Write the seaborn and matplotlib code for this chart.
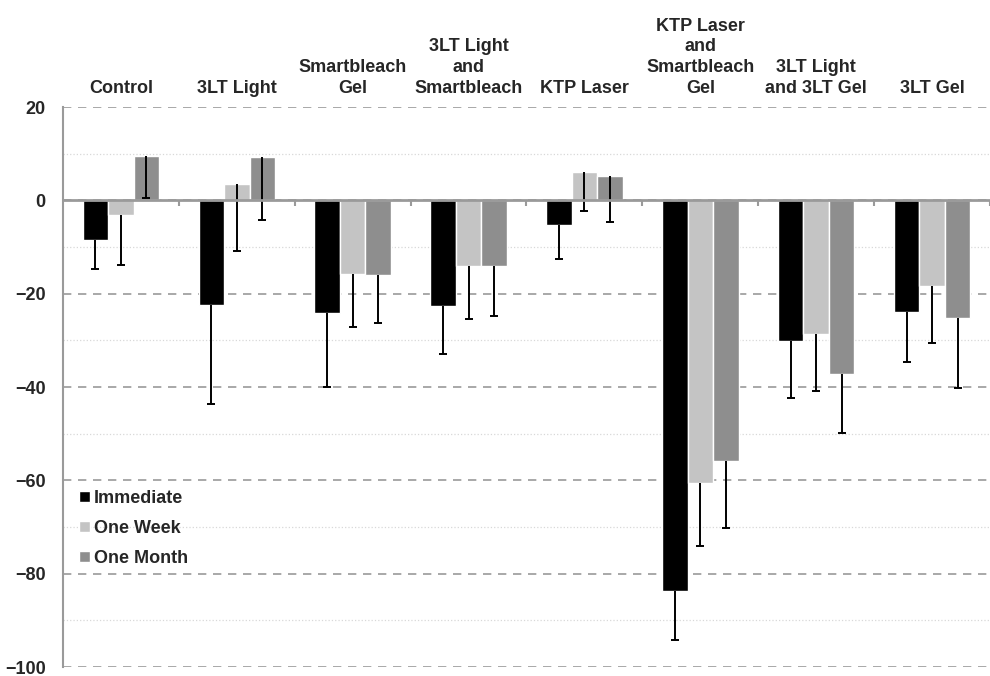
import matplotlib
matplotlib.use("Agg")
import matplotlib.pyplot as plt
from matplotlib.ticker import MultipleLocator, FixedLocator
import numpy as np
import pandas as pd
import seaborn as sns

# ============================================================
#  Data — percent change per treatment group
# ============================================================

groups = ["Control", "3LT Light", "Smartbleach\nGel", "3LT Light\nand\nSmartbleach",
          "KTP Laser", "KTP Laser\nand\nSmartbleach\nGel", "3LT Light\nand 3LT Gel", "3LT Gel"]
timepoints = ["Immediate", "One Week", "One Month"]

immediate = [-8.5, -22.4, -24.1, -22.6, -5.3, -83.8, -30.1, -23.9]
one_week = [-3.2, 3.6, -15.8, -14.1, 6.0, -60.5, -28.6, -18.4]
one_month = [9.4, 9.2, -16.0, -14.1, 5.2, -55.8, -37.2, -25.2]

# one-sided (downward) error bars
immediate_err = [6.2, 21.2, 15.9, 10.3, 7.3, 10.4, 12.2, 10.7]
one_week_err = [10.7, 14.5, 11.3, 11.3, 8.3, 13.5, 12.2, 12.2]
one_month_err = [8.8, 13.5, 10.3, 10.7, 9.9, 14.5, 12.6, 15.0]

colors = ["#000000", "#c4c4c4", "#8e8e8e"]

# ============================================================
#  Build long DataFrame
# ============================================================

rows = []
for vals, errs, tp in [(immediate, immediate_err, "Immediate"),
                       (one_week, one_week_err, "One Week"),
                       (one_month, one_month_err, "One Month")]:
    for g, v, e in zip(groups, vals, errs):
        rows.append({"group": g, "timepoint": tp, "value": v, "err": e})
df = pd.DataFrame(rows)

# ============================================================
#  Plot
# ============================================================

sns.set_style("white")
plt.rcParams["font.family"] = ["Liberation Sans", "DejaVu Sans"]
plt.rcParams["font.weight"] = "bold"

fig = plt.figure(figsize=(9.9, 6.76), dpi=100)
ax = fig.add_axes([0.0636, 0.0133, 0.9364, 0.8284])

sns.barplot(data=df, x="group", y="value", hue="timepoint", order=groups,
            hue_order=timepoints, palette=colors, width=0.66, gap=0,
            errorbar=None, saturation=1, ax=ax, zorder=3)

# error bars at bar centers, going downward only, cap at the low end
for container, tp in zip(ax.containers, timepoints):
    sub = df[df["timepoint"] == tp].set_index("group").loc[groups]
    xs = np.array([p.get_x() + p.get_width() / 2 for p in container.patches])
    lows = sub["value"].values - sub["err"].values
    ax.vlines(xs, lows, sub["value"].values, color="black", linewidth=1.4, zorder=4)
    ax.plot(xs, lows, linestyle="none", marker="_", markersize=6,
            markeredgewidth=1.4, color="black", zorder=4)

ax.set_ylim(-100, 20)
ax.set_xlim(-0.5, 7.5)
ax.yaxis.set_major_locator(MultipleLocator(20))
ax.yaxis.set_minor_locator(MultipleLocator(10))

ax.grid(axis="y", which="major", linestyle=(0, (5, 4)), color="#9a9a9a", linewidth=1.2, zorder=0)
ax.grid(axis="y", which="minor", linestyle=":", color="#d8d8d8", linewidth=0.9, zorder=0)
ax.grid(axis="x", visible=False)

for s in ["top", "right"]:
    ax.spines[s].set_visible(False)
ax.spines["left"].set_color("#9a9a9a")
ax.spines["left"].set_linewidth(1.5)
ax.spines["bottom"].set_position(("data", 0))
ax.spines["bottom"].set_color("#9a9a9a")
ax.spines["bottom"].set_linewidth(2)
ax.spines["bottom"].set_zorder(5)

# category labels on top, tick marks between groups on the zero line
ax.set_xticks(range(len(groups)))
ax.set_xticklabels(groups, fontsize=13, fontweight="bold", linespacing=1.28)
ax.tick_params(axis="x", which="major", bottom=False, top=False,
               labelbottom=False, labeltop=True, pad=4)
ax.xaxis.set_minor_locator(FixedLocator(np.arange(0.5, 8, 1)))
ax.tick_params(axis="x", which="minor", bottom=True, top=False,
               direction="out", length=4, width=1.5, color="#9a9a9a")
ax.tick_params(axis="y", which="both", left=False, labelsize=13, pad=9)
for lbl in ax.get_yticklabels():
    lbl.set_fontweight("bold")

ax.set_xlabel("")
ax.set_ylabel("")

leg = ax.legend(loc="upper left", bbox_to_anchor=(0.0, 0.345), frameon=False,
                handlelength=0.6, handleheight=0.6, handletextpad=0.2,
                labelspacing=0.72, prop={"weight": "bold", "size": 13})

fig.savefig("out.png", dpi=100)
